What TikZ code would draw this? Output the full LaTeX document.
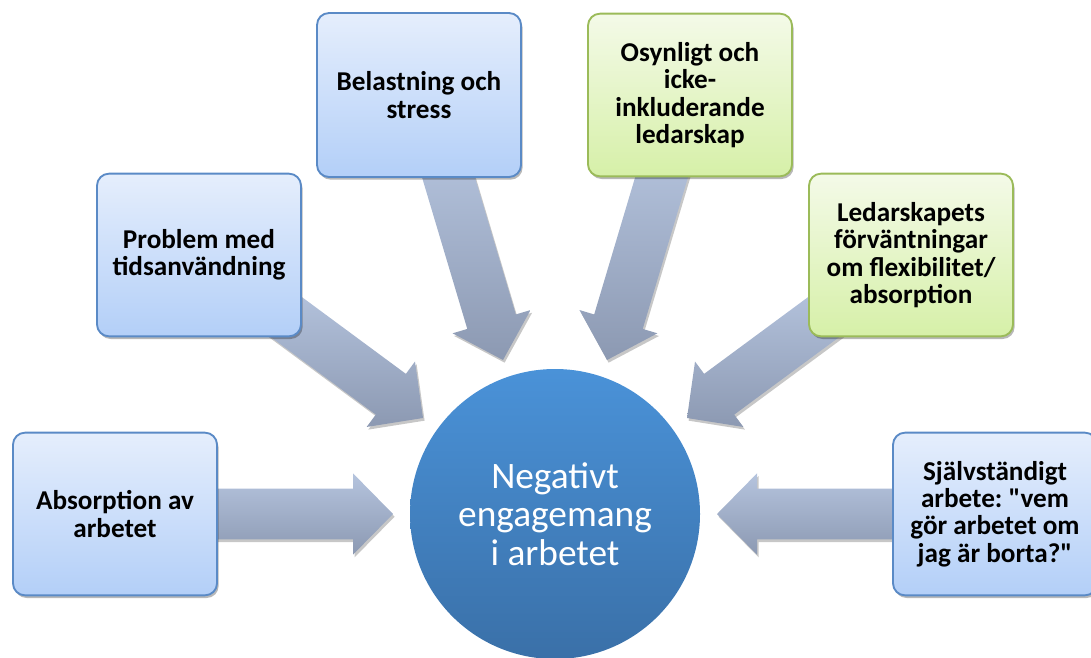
\documentclass[tikz,border=0pt]{standalone}
\usepackage{fontspec}
\setmainfont{Carlito}
\usetikzlibrary{calc,shadows}
\definecolor{blueline}{HTML}{5A8AC6}
\definecolor{bluetop}{HTML}{E5EEFC}
\definecolor{bluebot}{HTML}{B3CFF8}
\definecolor{greenline}{HTML}{9BBB59}
\definecolor{greentop}{HTML}{F4FAE8}
\definecolor{greenbot}{HTML}{D6F0A8}
\definecolor{arrtop}{HTML}{B5C4DE}
\definecolor{arrbot}{HTML}{8C99B2}
\definecolor{hubtop}{HTML}{4A92D8}
\definecolor{hubbot}{HTML}{3A70A8}
\newcommand\straightdq{\XeTeXglyph\XeTeXcharglyph"0022\relax}
\frenchspacing
\tikzset{
  box/.style={rounded corners=9pt, line width=1.4pt, minimum width=153pt,
    minimum height=122pt, align=center, inner sep=4pt,
    font=\fontsize{20.4pt}{20.6pt}\selectfont\bfseries\frenchspacing,
    drop shadow={shadow xshift=1.2pt, shadow yshift=-2pt, opacity=0.28, fill=black}},
  bluebox/.style={box, draw=blueline, top color=bluetop, bottom color=bluebot},
  greenbox/.style={box, draw=greenline, top color=greentop, bottom color=greenbot},
  barrow/.style={top color=arrtop, bottom color=arrbot,
    drop shadow={shadow xshift=1.2pt, shadow yshift=-2pt, opacity=0.22, fill=black}},
  hub/.style={circle, minimum size=217.5pt, inner sep=0pt, top color=hubtop,
    bottom color=hubbot, text=white, align=center,
    font=\fontsize{28pt}{29pt}\selectfont}
}
% #1 tail, #2 tip, #3 name of head base point
\newcommand\blockarrow[3]{%
  \coordinate (#3) at ($(#2)!30pt!(#1)$);
  \path[barrow] ($(#1)!19pt!90:(#2)$) -- ($(#3)!19pt!90:(#2)$)
    -- ($(#3)!30.5pt!90:(#2)$) -- (#2) -- ($(#3)!30.5pt!-90:(#2)$)
    -- ($(#3)!19pt!-90:(#2)$) -- ($(#1)!19pt!-90:(#2)$) -- cycle;
}
\begin{document}
\begin{tikzpicture}[x=0.75pt, y=-0.75pt]
\useasboundingbox (0,0) rectangle (1091,657);

% hub
\node[hub] (hub) at (555,514) {Negativt\\engagemang\\i arbetet};

% connector end points
\coordinate (t1) at (150,514);  \coordinate (p1) at (393,514);
\coordinate (t2) at (270,305);  \coordinate (p2) at (423,418);
\coordinate (t3) at (440,149);  \coordinate (p3) at (503,360);
\coordinate (t4) at (670,149);  \coordinate (p4) at (607,360);
\coordinate (t5) at (840,305);  \coordinate (p5) at (687,418);
\coordinate (t6) at (960,514);  \coordinate (p6) at (717,514);

\blockarrow{t1}{p1}{q1}
\blockarrow{t2}{p2}{q2}
\blockarrow{t3}{p3}{q3}
\blockarrow{t4}{p4}{q4}
\blockarrow{t5}{p5}{q5}
\blockarrow{t6}{p6}{q6}

% boxes
\node[bluebox] (b1) at (115,514) {Absorption av\\arbetet};
\node[bluebox] (b2) at (199,255) {Problem med\\tidsanvändning};
\node[bluebox, minimum height=123pt] (b3) at (419,95) {Belastning och\\stress};
\node[greenbox] (b4) at (690,95) {Osynligt och\\icke-\\inkluderande\\ledarskap};
\node[greenbox] (b5) at (911,255) {Ledarskapets\\förväntningar\\om flexibilitet/\\absorption};
\node[bluebox] (b6) at (995,514) {Självständigt\\arbete: \straightdq vem\\gör arbetet om\\jag är borta?\straightdq};
\end{tikzpicture}
\end{document}
